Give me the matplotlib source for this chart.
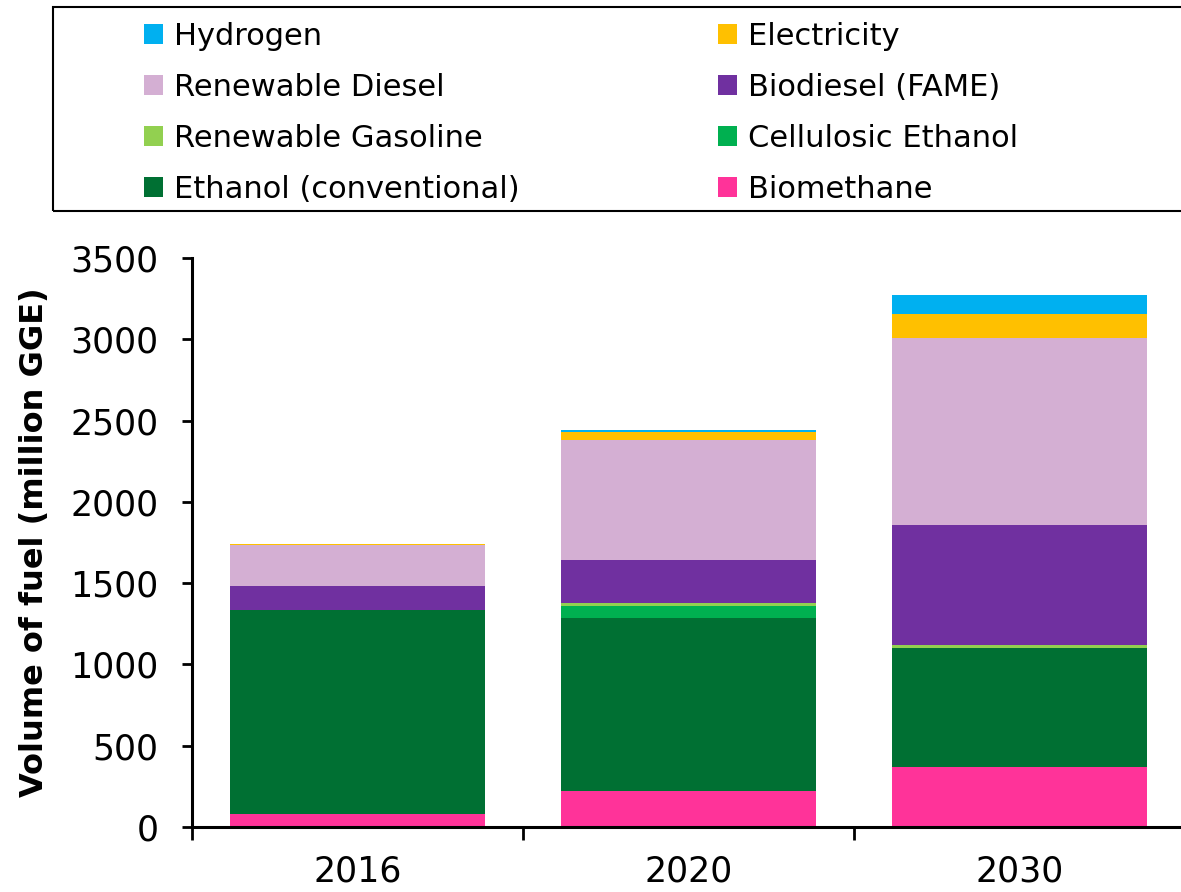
import matplotlib
matplotlib.use("Agg")
import matplotlib.pyplot as plt
import numpy as np
from matplotlib.patches import Patch, Rectangle

plt.rcParams['font.family'] = ['DejaVu Sans']

# data (million GGE)
years = ['2016', '2020', '2030']
biomethane = [80, 223, 370]
ethanol_conv = [1255, 1064, 730]
cellulosic = [0, 74, 0]
renew_gasoline = [0, 15, 20]
biodiesel = [150, 264, 740]
renew_diesel = [250, 742, 1150]
electricity = [6, 49, 144]
hydrogen = [0, 8, 117]

# stacking order bottom -> top
series = [
    ('Biomethane', biomethane, '#FF3399'),
    ('Ethanol (conventional)', ethanol_conv, '#007033'),
    ('Cellulosic Ethanol', cellulosic, '#00B050'),
    ('Renewable Gasoline', renew_gasoline, '#92D050'),
    ('Biodiesel (FAME)', biodiesel, '#7030A0'),
    ('Renewable Diesel', renew_diesel, '#D4AFD3'),
    ('Electricity', electricity, '#FFC000'),
    ('Hydrogen', hydrogen, '#00B0F0'),
]

fig = plt.figure(figsize=(11.81, 8.92), dpi=100)
ax = fig.add_axes([0.1626, 0.0729, 0.841, 0.6379])

x = np.arange(len(years))
bottom = np.zeros(len(years))
colors = {}
for name, vals, col in series:
    vals = np.array(vals, dtype=float)
    ax.bar(x, vals, width=0.77, bottom=bottom, color=col,
           edgecolor='none', zorder=2)
    bottom += vals
    colors[name] = col

ax.set_xlim(-0.5, 2.5)
ax.set_ylim(0, 3500)
ax.set_yticks(np.arange(0, 3501, 500))
ax.tick_params(axis='y', labelsize=25, length=7, width=2, pad=17)

# category separators as major ticks, labels on minor ticks
ax.set_xticks([-0.5, 0.5, 1.5, 2.5])
ax.set_xticklabels([])
ax.set_xticks(x, minor=True)
ax.set_xticklabels(years, minor=True)
ax.tick_params(axis='x', which='major', length=9, width=2)
ax.tick_params(axis='x', which='minor', length=0, labelsize=25, pad=20)

for s in ['top', 'right']:
    ax.spines[s].set_visible(False)
for s in ['left', 'bottom']:
    ax.spines[s].set_linewidth(2.2)

ax.set_ylabel('Volume of fuel (million GGE)', fontsize=23, fontweight='bold',
              labelpad=15)

# legend box (frame drawn separately so it can run off the right edge)
fig.add_artist(Rectangle((53 / 1181, 1 - 211 / 892), 1.0, 204 / 892,
                         transform=fig.transFigure, facecolor='none',
                         edgecolor='black', linewidth=1.5))

# legend: two columns, filled column by column
order = ['Hydrogen', 'Renewable Diesel', 'Renewable Gasoline', 'Ethanol (conventional)',
         'Electricity', 'Biodiesel (FAME)', 'Cellulosic Ethanol', 'Biomethane']
handles = [Patch(facecolor=colors[n], edgecolor='none', label=n) for n in order]
leg = fig.legend(handles=handles, ncol=2, loc='upper left',
                 bbox_to_anchor=(138 / 1181, 1 - 16 / 892),
                 fontsize=22, frameon=False,
                 handlelength=0.62, handleheight=0.62, handletextpad=0.35,
                 labelspacing=0.72, columnspacing=6.5, borderpad=0.2,
                 borderaxespad=0)

fig.savefig('out.png', dpi=100)
